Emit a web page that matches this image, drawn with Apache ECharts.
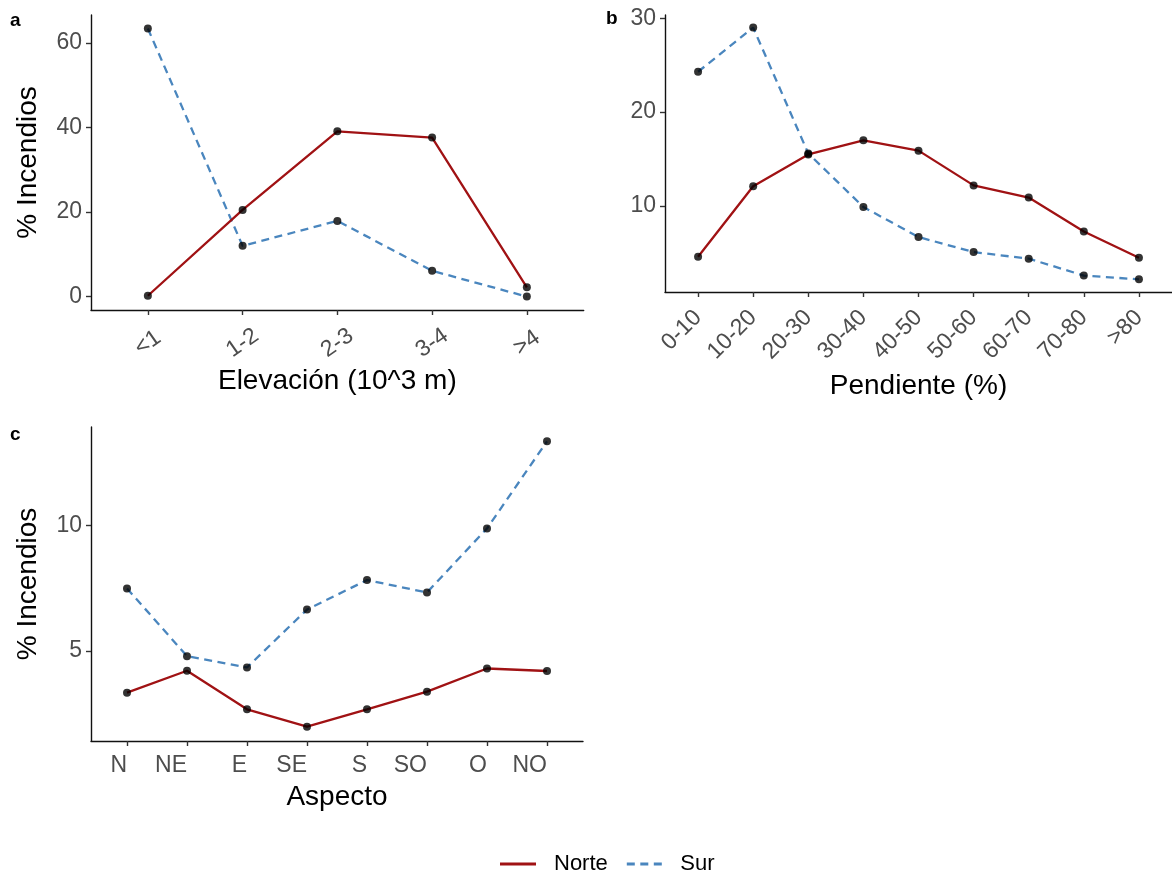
<!DOCTYPE html>
<html>
<head>
<meta charset="utf-8">
<script src="https://cdn.jsdelivr.net/npm/echarts@6/dist/echarts.min.js"></script>
<style>
html,body{margin:0;padding:0;background:#fff;}
#chart{width:1172px;height:874px;}
</style>
</head>
<body>
<div id="chart"></div>
<script>
// Panel a: elevation
const elevCats = ['<1', '1-2', '2-3', '3-4', '>4'];
const elevNorte = [0.2, 20.5, 39.1, 37.6, 2.2];
const elevSur = [63.4, 12.0, 17.9, 6.1, 0.0];
const elevYTicks = [0, 20, 40, 60];

// Panel b: slope
const slopeCats = ['0-10', '10-20', '20-30', '30-40', '40-50', '50-60', '60-70', '70-80', '>80'];
const slopeNorte = [4.6, 12.1, 15.5, 17.0, 15.9, 12.2, 10.9, 7.3, 4.5];
const slopeSur = [24.3, 29.0, 15.6, 9.9, 6.7, 5.1, 4.4, 2.6, 2.2];
const slopeYTicks = [10, 20, 30];

// Panel c: aspect
const aspCats = ['N', 'NE', 'E', 'SE', 'S', 'SO', 'O', 'NO'];
const aspNorte = [3.35, 4.22, 2.69, 2.0, 2.69, 3.39, 4.31, 4.21];
const aspSur = [7.49, 4.80, 4.35, 6.65, 7.82, 7.33, 9.87, 13.33];
const aspYTicks = [5, 10];

const seriesNames = ['Norte', 'Sur'];

const RED = '#A01214';
const BLUE = '#4A86BE';
const FONT = '"Liberation Sans", Arial, sans-serif';

function idx(arr) { return arr.map((v, i) => [i, v]); }
function range(n) { return Array.from({length: n}, (_, i) => i); }

const chart = echarts.init(document.getElementById('chart'));

const axisLineStyle = {show: true, onZero: false, lineStyle: {color: '#111', width: 1.4}};
const tickStyle = {show: true, length: 5, lineStyle: {color: '#333', width: 1.4}};

function xAxisFor(gridIndex, cats, name, labelOpts, nameGap) {
  return {
    type: 'value', gridIndex,
    min: -0.6, max: cats.length - 1 + 0.6,
    axisLine: axisLineStyle,
    axisTick: Object.assign({}, tickStyle, {customValues: range(cats.length)}),
    axisLabel: Object.assign({
      customValues: range(cats.length),
      formatter: v => cats[Math.round(v)],
      color: '#4D4D4D', fontSize: 23, fontFamily: FONT
    }, labelOpts),
    splitLine: {show: false},
    name, nameLocation: 'middle', nameGap, nameMoveOverlap: false,
    nameTextStyle: {color: '#000', fontSize: 28, fontFamily: FONT}
  };
}
function yAxisFor(gridIndex, min, max, ticks, name) {
  return {
    type: 'value', gridIndex, min, max,
    axisLine: axisLineStyle,
    axisTick: Object.assign({}, tickStyle, {customValues: ticks}),
    axisLabel: {customValues: ticks, color: '#4D4D4D', fontSize: 23, fontFamily: FONT, margin: 9},
    splitLine: {show: false},
    name: name || '', nameLocation: 'middle', nameGap: 49, nameRotate: 90, nameMoveOverlap: false,
    nameTextStyle: {color: '#000', fontSize: 28, fontFamily: FONT}
  };
}

function panelSeries(k, norte, sur) {
  return [
    {name: 'Sur', type: 'line', xAxisIndex: k, yAxisIndex: k, data: idx(sur), symbol: 'none',
     lineStyle: {color: BLUE, width: 2.3, type: [8, 5.5]}, itemStyle: {color: BLUE}, z: 2},
    {name: 'Norte', type: 'line', xAxisIndex: k, yAxisIndex: k, data: idx(norte), symbol: 'none',
     lineStyle: {color: RED, width: 2.3}, itemStyle: {color: RED}, z: 3},
    {name: 'ptsN' + k, type: 'scatter', xAxisIndex: k, yAxisIndex: k, data: idx(norte),
     symbol: 'circle', symbolSize: 8, itemStyle: {color: '#000'}, z: 5},
    {name: 'ptsS' + k, type: 'scatter', xAxisIndex: k, yAxisIndex: k, data: idx(sur),
     symbol: 'circle', symbolSize: 8, itemStyle: {color: '#000'}, z: 5}
  ];
}

const option = {
  animation: false,
  backgroundColor: '#fff',
  grid: [
    {left: 91, top: 15, width: 492.7, height: 295},
    {left: 665, top: 15, width: 513.5, height: 277},
    {left: 91, top: 427, width: 492, height: 314}
  ],
  xAxis: [
    xAxisFor(0, elevCats, 'Elevación (10^3 m)', {rotate: 35, align: 'center', verticalAlign: 'middle', margin: 33}, 57),
    xAxisFor(1, slopeCats, 'Pendiente (%)', {rotate: 45, margin: 22}, 80),
    xAxisFor(2, aspCats, 'Aspecto', {align: 'right', margin: 13}, 42)
  ],
  yAxis: [
    yAxisFor(0, -3.17, 66.6, elevYTicks, '% Incendios'),
    yAxisFor(1, 0.85, 30.34, slopeYTicks, ''),
    yAxisFor(2, 1.43, 13.9, aspYTicks, '% Incendios')
  ],
  legend: {
    data: [
      {name: seriesNames[0], icon: 'path://M0,0h36v3h-36z'},
      {name: seriesNames[1], icon: 'path://M0,0h8v3h-8z M13.5,0h8v3h-8z M27,0h8v3h-8z'}
    ],
    left: 495, top: 848,
    itemWidth: 36, itemHeight: 3, itemGap: 19,
    textStyle: {color: '#000', fontSize: 22, fontFamily: FONT, padding: [0, 0, 0, 13]}
  },
  graphic: [
    {type: 'text', left: 10, top: 11, style: {text: 'a', font: 'bold 19px ' + FONT, fill: '#000'}},
    {type: 'text', left: 606, top: 9, style: {text: 'b', font: 'bold 19px ' + FONT, fill: '#000'}},
    {type: 'text', left: 10, top: 425, style: {text: 'c', font: 'bold 19px ' + FONT, fill: '#000'}}
  ],
  series: [].concat(
    panelSeries(0, elevNorte, elevSur),
    panelSeries(1, slopeNorte, slopeSur),
    panelSeries(2, aspNorte, aspSur)
  )
};
chart.setOption(option);
</script>
</body>
</html>
